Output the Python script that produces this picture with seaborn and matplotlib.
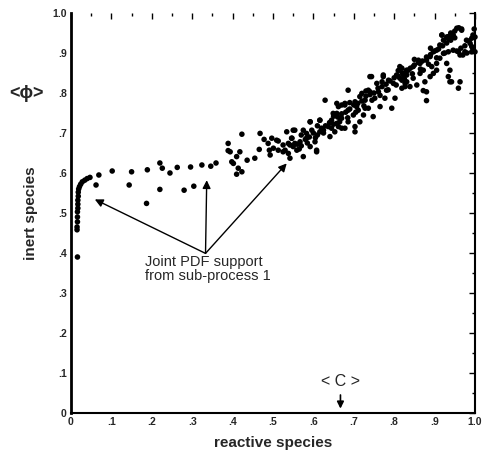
import numpy as np
import pandas as pd
import matplotlib.pyplot as plt
import seaborn as sns
from matplotlib.ticker import MultipleLocator, FuncFormatter

sns.set_theme(style="white")
plt.rcParams["font.family"] = ["Liberation Sans", "DejaVu Sans"]

# (reactive species <C>, inert species <phi>)
wall_pts = [
    (0.016, 0.390), (0.015, 0.458), (0.015, 0.465), (0.016, 0.478),
    (0.016, 0.490), (0.016, 0.503), (0.017, 0.512), (0.017, 0.522),
    (0.017, 0.532), (0.018, 0.542), (0.018, 0.552), (0.019, 0.560),
    (0.021, 0.566), (0.024, 0.572), (0.028, 0.578), (0.034, 0.582),
    (0.040, 0.586), (0.047, 0.589),
]
upper_row = [
    (0.069, 0.595), (0.102, 0.605), (0.150, 0.603), (0.189, 0.608),
    (0.220, 0.625), (0.226, 0.612), (0.245, 0.600), (0.263, 0.614),
    (0.296, 0.615), (0.324, 0.620), (0.346, 0.617), (0.359, 0.625),
]
lower_row = [
    (0.062, 0.570), (0.144, 0.570), (0.187, 0.524), (0.220, 0.559),
    (0.280, 0.557), (0.304, 0.567),
]
mid_cluster = [
    (0.423, 0.697), (0.389, 0.674), (0.389, 0.656), (0.398, 0.628),
    (0.410, 0.641), (0.418, 0.653), (0.414, 0.612), (0.423, 0.603),
    (0.410, 0.597), (0.402, 0.624), (0.394, 0.653), (0.436, 0.632),
    (0.455, 0.637), (0.468, 0.699), (0.466, 0.659), (0.478, 0.684),
    (0.488, 0.674), (0.493, 0.645), (0.513, 0.680), (0.491, 0.657),
    (0.530, 0.657), (0.538, 0.674), (0.534, 0.703), (0.554, 0.707),
    (0.547, 0.687), (0.538, 0.649), (0.497, 0.687), (0.509, 0.682),
    (0.501, 0.662), (0.513, 0.657), (0.525, 0.670), (0.525, 0.653),
    (0.542, 0.637), (0.542, 0.670),
]
band_pts = [
    (0.550, 0.707), (0.546, 0.687), (0.554, 0.674), (0.567, 0.678),
    (0.575, 0.707), (0.592, 0.728), (0.596, 0.707), (0.583, 0.687),
    (0.604, 0.678), (0.616, 0.703), (0.625, 0.707), (0.616, 0.732),
    (0.637, 0.716), (0.645, 0.732), (0.658, 0.724), (0.666, 0.737),
    (0.670, 0.712), (0.653, 0.703), (0.641, 0.691), (0.575, 0.641),
    (0.608, 0.653), (0.670, 0.770), (0.658, 0.749), (0.592, 0.666),
    (0.559, 0.657), (0.550, 0.666), (0.583, 0.699), (0.608, 0.657),
    (0.629, 0.782), (0.658, 0.774), (0.678, 0.774), (0.720, 0.799),
    (0.740, 0.803), (0.740, 0.841), (0.773, 0.845), (0.806, 0.845),
    (0.686, 0.807), (0.592, 0.728), (0.616, 0.732), (0.649, 0.749),
    (0.703, 0.716), (0.819, 0.862), (0.814, 0.837), (0.831, 0.845),
    (0.798, 0.824), (0.773, 0.841), (0.744, 0.841), (0.736, 0.807),
    (0.761, 0.803), (0.781, 0.807), (0.777, 0.787), (0.752, 0.787),
    (0.728, 0.782), (0.715, 0.791), (0.703, 0.778), (0.678, 0.770),
    (0.662, 0.766), (0.686, 0.757), (0.711, 0.757), (0.736, 0.762),
    (0.699, 0.745), (0.724, 0.745), (0.748, 0.741), (0.670, 0.737),
    (0.686, 0.728), (0.662, 0.716), (0.678, 0.712), (0.703, 0.703),
    (0.715, 0.728), (0.794, 0.762), (0.819, 0.812), (0.802, 0.787),
    (0.765, 0.766), (0.786, 0.832), (0.827, 0.824), (0.835, 0.857),
    (0.757, 0.824), (0.728, 0.762), (0.707, 0.766),
    (0.967, 0.957), (0.946, 0.945), (0.934, 0.941), (0.918, 0.945),
    (0.922, 0.932), (0.913, 0.920), (0.905, 0.907), (0.897, 0.903),
    (0.889, 0.891), (0.880, 0.882), (0.864, 0.874), (0.847, 0.866),
    (0.831, 0.857), (0.823, 0.845), (0.819, 0.832), (0.831, 0.828),
    (0.847, 0.837), (0.864, 0.849), (0.872, 0.857), (0.893, 0.866),
    (0.905, 0.874), (0.913, 0.887), (0.922, 0.899), (0.934, 0.903),
    (0.946, 0.907), (0.959, 0.903), (0.975, 0.903), (0.992, 0.916),
    (0.988, 0.924), (0.979, 0.932), (0.992, 0.937), (0.963, 0.895),
    (0.930, 0.874), (0.938, 0.857), (0.942, 0.828), (0.959, 0.812),
    (0.934, 0.841), (0.880, 0.803), (0.860, 0.882), (0.839, 0.816),
    (0.814, 0.866), (0.897, 0.849), (0.889, 0.841), (0.905, 0.857),
    (0.876, 0.828), (0.856, 0.820), (0.827, 0.816), (0.880, 0.781),
    (0.872, 0.806), (0.938, 0.828), (0.963, 0.828), (0.918, 0.945),
    (0.946, 0.942), (0.967, 0.960), (1.000, 0.940), (0.992, 0.903),
    (1.000, 0.903),
]
core_pts = [
    (0.560, 0.672), (0.570, 0.668), (0.580, 0.684), (0.590, 0.690),
    (0.600, 0.700), (0.610, 0.695), (0.620, 0.712), (0.630, 0.718),
    (0.640, 0.726), (0.650, 0.722), (0.660, 0.740), (0.670, 0.748),
    (0.680, 0.752), (0.690, 0.760), (0.700, 0.770), (0.710, 0.774),
    (0.720, 0.780), (0.730, 0.792), (0.740, 0.796), (0.750, 0.800),
    (0.760, 0.812), (0.770, 0.816), (0.780, 0.822), (0.790, 0.830),
    (0.800, 0.838), (0.810, 0.842), (0.820, 0.850), (0.830, 0.856),
    (0.840, 0.862), (0.850, 0.870), (0.860, 0.876), (0.870, 0.880),
    (0.880, 0.890), (0.890, 0.896), (0.900, 0.905), (0.910, 0.910),
    (0.920, 0.918), (0.930, 0.925), (0.940, 0.932), (0.950, 0.938),
    (0.565, 0.660), (0.585, 0.675), (0.605, 0.688), (0.625, 0.700),
    (0.645, 0.712), (0.665, 0.728), (0.685, 0.738), (0.705, 0.752),
    (0.725, 0.768), (0.745, 0.782), (0.765, 0.794), (0.785, 0.808),
    (0.805, 0.820), (0.825, 0.836), (0.845, 0.848), (0.865, 0.860),
    (0.885, 0.872), (0.905, 0.888), (0.925, 0.900),
    (0.570, 0.695), (0.610, 0.718), (0.650, 0.742), (0.690, 0.776),
    (0.730, 0.805), (0.770, 0.828), (0.810, 0.856), (0.850, 0.884),
    (0.890, 0.912), (0.930, 0.940),
    (0.955, 0.905), (0.965, 0.912), (0.975, 0.918), (0.985, 0.930),
    (0.995, 0.945), (0.998, 0.960), (0.970, 0.895), (0.980, 0.900),
    (0.995, 0.910), (0.940, 0.950), (0.950, 0.955), (0.955, 0.962),
    (0.960, 0.963), (0.935, 0.935),
]

groups = {"wall": wall_pts, "upper": upper_row, "lower": lower_row,
          "mid": mid_cluster, "band": band_pts, "core": core_pts}
rows = [(c, p, g) for g, pts in groups.items() for c, p in pts]
df = pd.DataFrame(rows, columns=["C", "phi", "group"])

fig = plt.figure(figsize=(4.94, 4.53), dpi=100)
ax = fig.add_axes([0.1437, 0.0883, 0.8178, 0.883])

sns.scatterplot(data=df, x="C", y="phi", color="black", s=16,
                edgecolor="none", legend=False, ax=ax, clip_on=False)

ax.set_xlim(0, 1.0)
ax.set_ylim(0, 1.0)


def frac_fmt(v, pos):
    if abs(v) < 1e-9:
        return "0"
    if abs(v - 1) < 1e-9:
        return "1.0"
    return f"{v:.1f}".lstrip("0")


for axis in (ax.xaxis, ax.yaxis):
    axis.set_major_locator(MultipleLocator(0.1))
    axis.set_minor_locator(MultipleLocator(0.05))
    axis.set_major_formatter(FuncFormatter(frac_fmt))

ax.tick_params(which="both", direction="in", top=True, right=True,
               color="black", width=1)
ax.tick_params(which="major", length=4, labelsize=7.5, pad=3)
ax.tick_params(which="minor", length=2)
for lab in ax.get_xticklabels() + ax.get_yticklabels():
    lab.set_fontweight("bold")

ax.spines["top"].set_visible(False)
ax.spines["left"].set_linewidth(2)
ax.spines["bottom"].set_linewidth(1.5)
ax.spines["right"].set_linewidth(1.5)
for s in ax.spines.values():
    s.set_color("black")

ax.set_xlabel("reactive species", fontsize=11, fontweight="bold", labelpad=6)
ax.set_ylabel("inert species", fontsize=11, fontweight="bold", labelpad=10)

ax.text(-0.11, 0.80, "<ϕ>", fontsize=13, fontweight="bold",
        ha="center", va="center", clip_on=False)
ax.text(0.668, 0.078, "< C >", fontsize=11.5, ha="center", va="center")
ax.annotate("", xy=(0.667, 0.004), xytext=(0.667, 0.052),
            arrowprops=dict(arrowstyle="-|>", color="black", lw=1.2,
                            mutation_scale=10))

origin = (0.333, 0.399)
for tip in [(0.059, 0.534), (0.336, 0.582), (0.534, 0.624)]:
    ax.annotate("", xy=tip, xytext=origin,
                arrowprops=dict(arrowstyle="-|>", color="black", lw=1,
                                mutation_scale=12, shrinkA=0, shrinkB=0))
ax.text(0.182, 0.36, "Joint PDF support\nfrom sub-process 1", fontsize=10.5,
        ha="left", va="center", linespacing=1.0)

fig.savefig("out.png", dpi=100, facecolor="white")
